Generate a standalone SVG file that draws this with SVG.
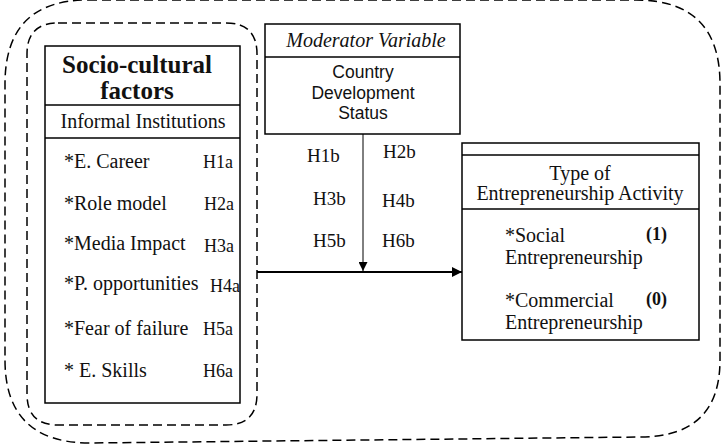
<svg xmlns="http://www.w3.org/2000/svg" width="722" height="446" viewBox="0 0 722 446">
<style>
.box{fill:#fff;stroke:#000;stroke-width:1.5}
.dash{fill:none;stroke:#000;stroke-width:1.5;stroke-dasharray:9,5}
.s{font-family:"Liberation Serif","Times New Roman",serif;font-size:20px;fill:#111}
.h{font-family:"Liberation Serif","Times New Roman",serif;font-size:18px;fill:#111}
.hb{font-family:"Liberation Serif","Times New Roman",serif;font-size:19px;fill:#111}
.b{font-family:"Liberation Serif","Times New Roman",serif;font-size:18px;font-weight:bold;fill:#111}
.t{font-family:"Liberation Serif","Times New Roman",serif;font-size:25px;font-weight:bold;fill:#111}
.sans{font-family:"Liberation Sans",Arial,sans-serif;font-size:17.5px;fill:#111}
.line{stroke:#000;fill:none}
</style>
<defs>
<marker id="arr" viewBox="0 0 10 10" refX="10" refY="5" markerWidth="9" markerHeight="9" markerUnits="userSpaceOnUse" orient="auto">
<path d="M0,0 L10,5 L0,10 z" fill="#000"/>
</marker>
<marker id="arr2" viewBox="0 0 10 10" refX="10" refY="5" markerWidth="10" markerHeight="10" markerUnits="userSpaceOnUse" orient="auto">
<path d="M0,0 L10,5 L0,10 z" fill="#000"/>
</marker>
</defs>
<g id="outer-boundary">
<path class="dash" d="M88,0 L636,0 Q720,0 720,84 L720,360 Q720,437 640,437 L90,443 Q5,443 5,360 L5,84 Q5,0 88,0 Z"/>
</g>
<g id="inner-boundary">
<path class="dash" d="M58,23 L226,23 Q257,23 257,54 L257,394 Q257,425 226,425 L58,425 Q27,425 27,394 L27,54 Q27,23 58,23 Z"/>
</g>
<g id="socio-cultural">
<rect class="box" x="45" y="46" width="195" height="357"/>
<line class="line" x1="45" y1="105" x2="240" y2="105" stroke-width="1.5"/>
<line class="line" x1="45" y1="138" x2="240" y2="138" stroke-width="1.5"/>
<text class="t" x="137" y="73" text-anchor="middle">Socio-cultural</text>
<text class="t" x="137" y="99" text-anchor="middle">factors</text>
<text class="s" x="143" y="128" text-anchor="middle">Informal Institutions</text>
<text class="s" x="64" y="168">*E. Career</text><text class="h" x="203" y="168">H1a</text>
<text class="s" x="64" y="210">*Role model</text><text class="h" x="204" y="210">H2a</text>
<text class="s" x="64" y="250">*Media Impact</text><text class="h" x="204" y="252">H3a</text>
<text class="s" x="64" y="290">*P. opportunities</text><text class="h" x="210" y="292">H4a</text>
<text class="s" x="64" y="335">*Fear of failure</text><text class="h" x="203" y="335">H5a</text>
<text class="s" x="64" y="377">* E. Skills</text><text class="h" x="203" y="377">H6a</text>
</g>
<g id="moderator">
<rect class="box" x="265" y="24" width="195" height="110"/>
<line class="line" x1="265" y1="57" x2="460" y2="57" stroke-width="1.5"/>
<text class="s" x="366" y="47" text-anchor="middle" font-style="italic">Moderator Variable</text>
<text class="sans" x="363" y="78" text-anchor="middle">Country</text>
<text class="sans" x="363" y="99" text-anchor="middle">Development</text>
<text class="sans" x="363" y="119" text-anchor="middle">Status</text>
</g>
<g id="entrepreneurship">
<rect class="box" x="462" y="143" width="237" height="197"/>
<line class="line" x1="462" y1="155" x2="699" y2="155" stroke-width="1.5"/>
<line class="line" x1="462" y1="209" x2="699" y2="209" stroke-width="1.5"/>
<text class="s" x="580" y="180" text-anchor="middle">Type of</text>
<text class="s" x="580" y="200" text-anchor="middle">Entrepreneurship Activity</text>
<text class="s" x="505" y="242">*Social</text>
<text class="s" x="505" y="264">Entrepreneurship</text>
<text class="b" x="646" y="240">(1)</text>
<text class="s" x="505" y="307">*Commercial</text>
<text class="s" x="505" y="329">Entrepreneurship</text>
<text class="b" x="646" y="305">(0)</text>
</g>
<g id="connectors">
<line class="line" x1="257" y1="272" x2="462" y2="272" stroke-width="2" marker-end="url(#arr2)"/>
<line class="line" x1="363" y1="134" x2="363" y2="271" stroke-width="1" marker-end="url(#arr)"/>
<text class="hb" x="307" y="162">H1b</text>
<text class="hb" x="383" y="158">H2b</text>
<text class="hb" x="313" y="205">H3b</text>
<text class="hb" x="382" y="207">H4b</text>
<text class="hb" x="313" y="247">H5b</text>
<text class="hb" x="382" y="247">H6b</text>
</g>
</svg>
